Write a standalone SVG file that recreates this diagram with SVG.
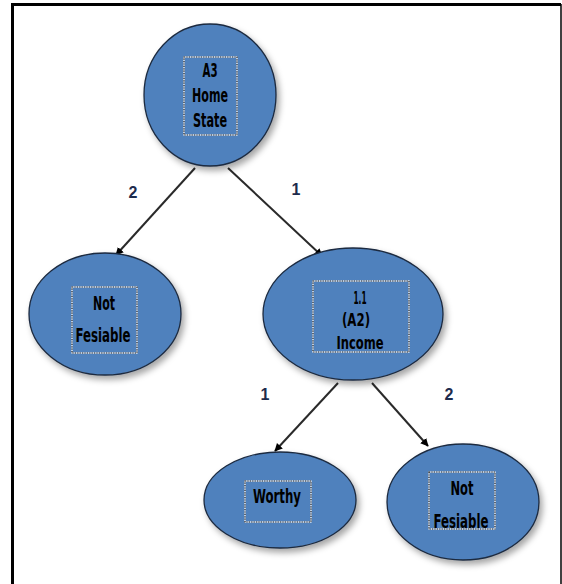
<svg xmlns="http://www.w3.org/2000/svg" width="562" height="584" viewBox="0 0 562 584">
<style>
.node{fill:#4F81BD;stroke:#1b2a40;stroke-width:1.3;filter:url(#sh)}
.box{fill:none;stroke:#fff;stroke-width:1.2}
.boxd{fill:none;stroke:#222;stroke-width:1.2;stroke-dasharray:1.2,1.2}
.t{font-family:"DejaVu Sans Condensed","DejaVu Sans",sans-serif;font-weight:bold;font-size:20px;fill:#000;text-anchor:middle}
.ts{font-size:18px}
.lbl{font-family:"Liberation Sans",Arial,sans-serif;font-weight:bold;font-size:16px;fill:#1d2b4c;text-anchor:middle}
.edge{stroke:#2a2a2a;stroke-width:2;fill:none;marker-end:url(#ah)}
</style>
<defs>
<filter id="sh" x="-20%" y="-20%" width="150%" height="150%">
<feDropShadow dx="3" dy="4" stdDeviation="3" flood-color="#000" flood-opacity="0.35"/>
</filter>
<marker id="ah" viewBox="0 0 10 10" refX="9" refY="5" markerWidth="8" markerHeight="8" markerUnits="userSpaceOnUse" orient="auto">
<path d="M0,0 L10,5 L0,10 z" fill="#000"/>
</marker>
</defs>
<rect width="562" height="584" fill="#fff"/>
<path d="M12.5,584 V4.5 H561" fill="none" stroke="#000" stroke-width="3"/>
<path d="M561,4 V584" fill="none" stroke="#000" stroke-width="1.5"/>
<g id="connectors">
<line class="edge" x1="195" y1="168" x2="116" y2="255"/>
<line class="edge" x1="228" y1="168" x2="322" y2="256"/>
<line class="edge" x1="338" y1="383" x2="275" y2="451"/>
<line class="edge" x1="372" y1="383" x2="428" y2="446"/>
<text class="lbl" x="133" y="198">2</text>
<text class="lbl" x="296" y="195">1</text>
<text class="lbl" x="265" y="400">1</text>
<text class="lbl" x="449" y="400">2</text>
</g>
<g id="root">
<ellipse class="node" cx="210" cy="95" rx="66" ry="71"/>
<rect class="box" x="184" y="57" width="53" height="78"/>
<rect class="boxd" x="184" y="57" width="53" height="78"/>
<text class="t" x="210" y="77" textLength="15" lengthAdjust="spacingAndGlyphs">A3</text>
<text class="t" x="210" y="102" textLength="36" lengthAdjust="spacingAndGlyphs">Home</text>
<text class="t" x="210" y="127" textLength="34" lengthAdjust="spacingAndGlyphs">State</text>
</g>
<g id="notfeasible1">
<ellipse class="node" cx="105" cy="314" rx="76" ry="61"/>
<rect class="box" x="72" y="287" width="65" height="66"/>
<rect class="boxd" x="72" y="287" width="65" height="66"/>
<text class="t" x="104" y="310" textLength="22" lengthAdjust="spacingAndGlyphs">Not</text>
<text class="t" x="103" y="342" textLength="55" lengthAdjust="spacingAndGlyphs">Fesiable</text>
</g>
<g id="income">
<ellipse class="node" cx="353" cy="314" rx="90" ry="66"/>
<rect class="box" x="313" y="281" width="96" height="71"/>
<rect class="boxd" x="313" y="281" width="96" height="71"/>
<text class="t ts" x="360" y="304" textLength="13" lengthAdjust="spacingAndGlyphs">1.1</text>
<text class="t ts" x="356" y="326" textLength="28" lengthAdjust="spacingAndGlyphs">(A2)</text>
<text class="t ts" x="360" y="349" textLength="47" lengthAdjust="spacingAndGlyphs">Income</text>
</g>
<g id="worthy">
<ellipse class="node" cx="280" cy="500" rx="76" ry="48"/>
<rect class="box" x="245" y="481" width="66" height="41"/>
<rect class="boxd" x="245" y="481" width="66" height="41"/>
<text class="t" x="277" y="503" textLength="48" lengthAdjust="spacingAndGlyphs">Worthy</text>
</g>
<g id="notfeasible2">
<ellipse class="node" cx="463" cy="502" rx="76" ry="58"/>
<rect class="box" x="429" y="472" width="66" height="57"/>
<rect class="boxd" x="429" y="472" width="66" height="57"/>
<text class="t" x="462" y="495" textLength="23" lengthAdjust="spacingAndGlyphs">Not</text>
<text class="t" x="461" y="528" textLength="55" lengthAdjust="spacingAndGlyphs">Fesiable</text>
</g>
</svg>
